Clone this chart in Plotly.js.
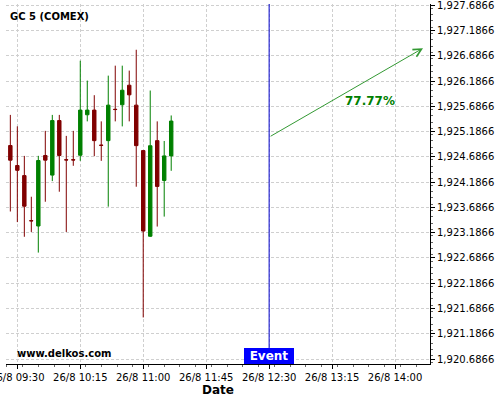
<!DOCTYPE html>
<html>
<head>
<meta charset="utf-8">
<script src="https://cdn.plot.ly/plotly-3.0.1.min.js"></script>
<style>html,body{margin:0;padding:0;background:#fff;}#chart{width:500px;height:400px;}</style>
</head>
<body>
<div id="chart"></div>
<script>
// Candle data (5-minute bars, 26 Aug)
const times = ["2023-08-26 09:25","2023-08-26 09:30","2023-08-26 09:35","2023-08-26 09:40","2023-08-26 09:45","2023-08-26 09:50",
  "2023-08-26 09:55","2023-08-26 10:00","2023-08-26 10:05","2023-08-26 10:10","2023-08-26 10:15","2023-08-26 10:20",
  "2023-08-26 10:25","2023-08-26 10:30","2023-08-26 10:35","2023-08-26 10:40","2023-08-26 10:45","2023-08-26 10:50",
  "2023-08-26 10:55","2023-08-26 11:00","2023-08-26 11:05","2023-08-26 11:10","2023-08-26 11:15","2023-08-26 11:20"];
const openVals  = [1924.910,1924.515,1924.315,1923.425,1923.318,1924.713,1924.325,1925.404,1924.630,1924.630,1924.718,1925.519,
  1925.611,1924.918,1925.007,1925.627,1925.716,1926.103,1925.709,1924.810,1923.116,1925.007,1924.219,1924.705];
const highVals  = [1925.516,1925.290,1924.705,1923.897,1924.706,1925.200,1925.516,1925.516,1925.101,1925.200,1926.588,1926.195,
  1925.906,1925.388,1926.293,1926.490,1926.490,1926.392,1926.805,1924.810,1925.998,1925.388,1925.000,1925.505];
const lowVals   = [1923.605,1923.395,1923.105,1923.200,1922.792,1923.798,1924.206,1923.996,1923.200,1924.509,1924.607,1925.388,
  1924.699,1924.607,1923.701,1925.388,1925.289,1925.388,1924.095,1921.509,1923.101,1923.307,1923.504,1924.410];
const closeVals = [1924.620,1924.420,1923.710,1923.420,1924.614,1924.621,1925.404,1924.713,1924.625,1924.625,1925.611,1925.611,
  1925.007,1924.913,1925.709,1925.622,1926.004,1925.913,1924.908,1923.218,1924.906,1924.101,1924.705,1925.394];

// Event and projection
const eventTime = "2023-08-26 12:30";
const arrowStart = ["2023-08-26 12:30", 1925.077];
const arrowEnd = ["2023-08-26 14:20", 1926.836];
const arrowLabel = "77.77%";
const arrowLabelPos = ["2023-08-26 13:42", 1925.788];

const xRange = ["2023-08-26 09:21:54", "2023-08-26 14:25"];
const yRange = [1920.588, 1927.71];
const yTick0 = 1920.6866;

const GREEN = "#008000", RED = "#800000";

const trace = {
  type: "candlestick",
  x: times, open: openVals, high: highVals, low: lowVals, close: closeVals,
  increasing: {line: {color: GREEN, width: 1}, fillcolor: GREEN},
  decreasing: {line: {color: RED, width: 1}, fillcolor: RED},
  whiskerwidth: 0,
  hoverinfo: "skip",
  showlegend: false
};

const gridStyle = {showgrid: true, gridcolor: "#cfcfcf", griddash: "3px,2px", gridwidth: 1};

const layout = {
  width: 500, height: 400,
  margin: {l: 6, r: 70, t: 4, b: 36},
  paper_bgcolor: "#ffffff", plot_bgcolor: "#ffffff",
  font: {family: "DejaVu Sans", size: 10, color: "#000"},
  showlegend: false,
  title: {text: "<b>GC 5 (COMEX)</b>", x: 0.02, xanchor: "left", y: 0.96, yanchor: "middle",
          font: {family: "DejaVu Sans", size: 10, color: "#000"}},
  xaxis: Object.assign({
    type: "date", range: xRange,
    rangeslider: {visible: false},
    tick0: "2023-08-26 09:30", dtick: 45 * 60 * 1000,
    tickformat: "%-d/%-m %H:%M",
    ticks: "outside", ticklen: 4, tickcolor: "#000",
    ticklabeloverflow: "allow",
    minor: {dtick: 675000, ticks: "outside", ticklen: 2, tickcolor: "#666", showgrid: false},
    showline: true, linecolor: "#000", linewidth: 1,
    zeroline: false,
    tickfont: {size: 10, family: "DejaVu Sans"},
    title: {text: "<b>Date</b>", font: {size: 12, family: "DejaVu Sans"}, standoff: 3}
  }, gridStyle),
  yaxis: Object.assign({
    side: "right", range: yRange,
    tick0: yTick0, dtick: 0.5,
    tickformat: ",.4f",
    ticks: "outside", ticklen: 4, tickcolor: "#000",
    ticklabeloverflow: "allow",
    minor: {dtick: 0.125, ticks: "outside", ticklen: 2, tickcolor: "#666", showgrid: false},
    showline: true, linecolor: "#000", linewidth: 1,
    zeroline: false,
    tickfont: {size: 10, family: "DejaVu Sans"}
  }, gridStyle),
  shapes: [
    {type: "line", xref: "x", yref: "paper", x0: eventTime, x1: eventTime, y0: 0, y1: 1,
     line: {color: "#0000cc", width: 1}}
  ],
  annotations: [
    {xref: "x", yref: "y", axref: "x", ayref: "y",
     x: arrowEnd[0], y: arrowEnd[1], ax: arrowStart[0], ay: arrowStart[1],
     text: "", showarrow: true, arrowhead: 5, arrowsize: 1.6, arrowwidth: 1, arrowcolor: "#339933"},
    {xref: "x", yref: "y", x: arrowLabelPos[0], y: arrowLabelPos[1], text: "<b>" + arrowLabel + "</b>",
     showarrow: false, font: {family: "DejaVu Sans", size: 12, color: GREEN}},
    {xref: "x", yref: "paper", x: eventTime, y: 0, yanchor: "bottom", text: "<b>Event</b>",
     showarrow: false, bgcolor: "#0000ff", borderpad: 1, borderwidth: 0,
     font: {family: "DejaVu Sans", size: 12, color: "#ffffff"}, width: 48},
    {xref: "paper", yref: "paper", x: 0.021, y: 0.028, xanchor: "left", yanchor: "middle",
     text: "<b>www.delkos.com</b>", showarrow: false, font: {family: "DejaVu Sans", size: 10, color: "#000"}}
  ]
};

Plotly.newPlot("chart", [trace], layout, {staticPlot: true, displayModeBar: false});
</script>
</body>
</html>
